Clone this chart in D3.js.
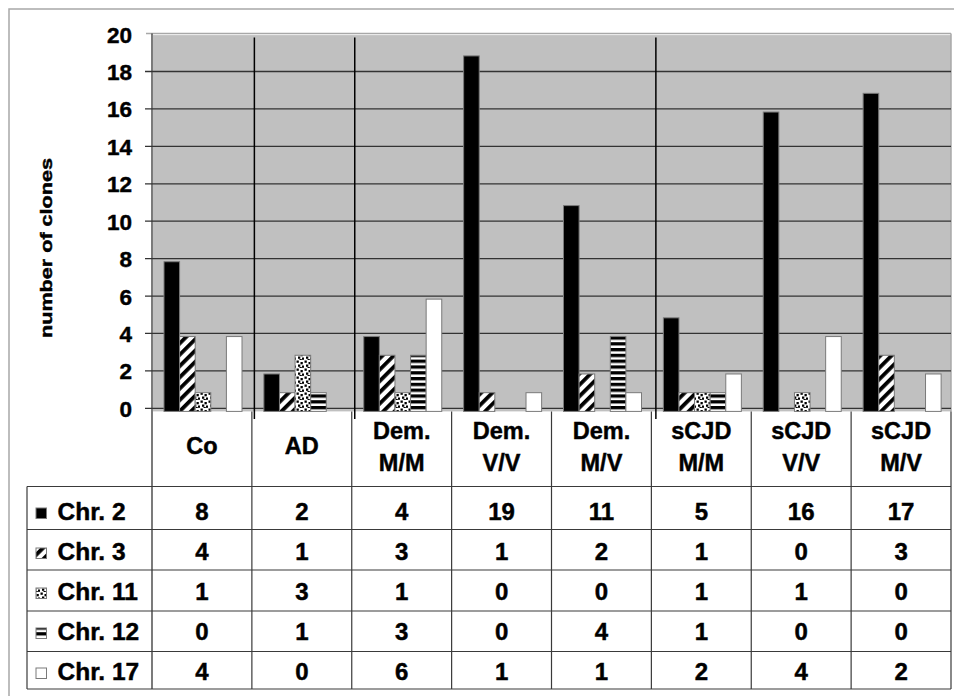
<!DOCTYPE html>
<html>
<head>
<meta charset="utf-8">
<script src="https://cdn.jsdelivr.net/npm/d3@7"></script>
<style>
  html, body { margin: 0; padding: 0; background: #fff; }
  svg { display: block; font-family: "Liberation Sans", Arial, sans-serif; font-weight: bold; }
  svg text { stroke: #000; stroke-width: 0.45px; paint-order: stroke; }
</style>
</head>
<body>
<svg id="chart" width="954" height="696"></svg>
<script>
// Clone counts per chromosome for each patient group
const categories = ["Co", "AD", "Dem. M/M", "Dem. V/V", "Dem. M/V", "sCJD M/M", "sCJD V/V", "sCJD M/V"];
const seriesNames = ["Chr. 2", "Chr. 3", "Chr. 11", "Chr. 12", "Chr. 17"];
const chr2  = [8, 2, 4, 19, 11, 5, 16, 17];
const chr3  = [4, 1, 3, 1, 2, 1, 0, 3];
const chr11 = [1, 3, 1, 0, 0, 1, 1, 0];
const chr12 = [0, 1, 3, 0, 4, 1, 0, 0];
const chr17 = [4, 0, 6, 1, 1, 2, 4, 2];
const yTicks = [0, 2, 4, 6, 8, 10, 12, 14, 16, 18, 20];
const groupEnds = ["Co", "AD", "Dem. M/V"]; // categories followed by a group separator

const seriesValues = [chr2, chr3, chr11, chr12, chr17];
const fills = ["#000", "url(#pDiag)", "url(#pDots)", "url(#pHoriz)", "#fff"];

const svg = d3.select("#chart");

// ---- patterns ----
const defs = svg.append("defs");
const diag = defs.append("pattern").attr("id", "pDiag").attr("patternUnits", "userSpaceOnUse")
  .attr("width", 8).attr("height", 8).attr("patternTransform", "rotate(45)");
diag.append("rect").attr("width", 8).attr("height", 8).attr("fill", "#fff");
diag.append("rect").attr("width", 3.8).attr("height", 8).attr("fill", "#000");

const dots = defs.append("pattern").attr("id", "pDots").attr("patternUnits", "userSpaceOnUse")
  .attr("width", 8).attr("height", 8);
dots.append("rect").attr("width", 8).attr("height", 8).attr("fill", "#fff");
[[0.5, 0.5], [4.5, 2], [2, 4.5], [6, 5.5], [3.5, 7]].forEach(([px, py]) => {
  dots.append("rect").attr("x", px).attr("y", py).attr("width", 2.3).attr("height", 2.3).attr("fill", "#000");
});

const horiz = defs.append("pattern").attr("id", "pHoriz").attr("patternUnits", "userSpaceOnUse")
  .attr("width", 8).attr("height", 5.8);
horiz.append("rect").attr("width", 8).attr("height", 5.8).attr("fill", "#fff");
horiz.append("rect").attr("width", 8).attr("height", 3.3).attr("fill", "#000");

// ---- outer frame ----
svg.append("rect").attr("x", 9).attr("y", 9).attr("width", 1000).attr("height", 1000)
  .attr("fill", "none").attr("stroke", "#a8a8a8").attr("stroke-width", 1.5);

// ---- scales ----
const plotLeft = 152, plotRight = 951, yTop = 33.6, yZero = 407.8;
const x0 = d3.scaleBand().domain(categories).range([plotLeft, plotRight]);
const x1 = d3.scaleBand().domain(seriesNames).range([12, 12 + 78]);
const y = d3.scaleLinear().domain([0, 20]).range([yZero, yTop]);
const sepX = d3.scaleLinear().domain([0, 8]).range([154, 957]);
const barShift = 3.6;

// ---- plot area ----
svg.append("rect").attr("x", plotLeft + 1).attr("y", yTop + 1.5)
  .attr("width", plotRight - plotLeft - 1).attr("height", yZero + barShift - yTop - 1.5)
  .attr("fill", "#c0c0c0");
svg.append("line").attr("x1", 146).attr("x2", plotRight).attr("y1", yTop).attr("y2", yTop)
  .attr("stroke", "#a8a8a8").attr("stroke-width", 1.5);
svg.append("line").attr("x1", plotRight).attr("x2", plotRight).attr("y1", yTop).attr("y2", yZero + barShift)
  .attr("stroke", "#a8a8a8").attr("stroke-width", 1.5);

// gridlines + y axis
const yAxis = d3.axisLeft(y).tickValues(yTicks.filter(t => t !== 20)).tickSize(plotRight - 145).tickFormat("");
const gGrid = svg.append("g").attr("transform", `translate(${plotRight},0)`).call(yAxis);
gGrid.select(".domain").remove();
gGrid.selectAll("line").attr("stroke", "#333").attr("stroke-width", 1.3);

const gLabels = svg.append("g").attr("transform", "translate(132,0)")
  .call(d3.axisLeft(y).tickValues(yTicks).tickSize(0).tickPadding(0));
gLabels.select(".domain").remove();
gLabels.selectAll("text").attr("font-size", 22.5).attr("font-weight", "bold")
  .attr("font-family", "'Liberation Sans', Arial, sans-serif").attr("fill", "#000")
  .attr("dy", null).attr("dominant-baseline", "auto")
  .attr("transform", "translate(0,8.5)");

// y axis line (continues down as table border)
svg.append("line").attr("x1", plotLeft).attr("x2", plotLeft).attr("y1", yTop).attr("y2", 689)
  .attr("stroke", "#333").attr("stroke-width", 1.3);

// group separators
groupEnds.forEach(c => {
  const k = categories.indexOf(c) + 1;
  svg.append("line").attr("x1", sepX(k)).attr("x2", sepX(k)).attr("y1", 37.5).attr("y2", 419)
    .attr("stroke", "#000").attr("stroke-width", 1.5);
});

// ---- bars ----
const barData = [];
categories.forEach((c, ci) => {
  seriesNames.forEach((s, si) => {
    barData.push({ cat: c, series: s, value: seriesValues[si][ci], fill: fills[si] });
  });
});
svg.append("g").selectAll("rect").data(barData.filter(d => d.value > 0)).join("rect")
  .attr("x", d => x0(d.cat) + x1(d.series))
  .attr("y", d => y(d.value) + barShift)
  .attr("width", x1.bandwidth())
  .attr("height", d => y(0) - y(d.value))
  .attr("fill", d => d.fill)
  .attr("stroke", "#7a7a7a").attr("stroke-width", 1);

// ---- y axis title ----
svg.append("text").attr("transform", "translate(52,248) rotate(-90)")
  .attr("text-anchor", "middle").attr("font-size", 16.5)
  .attr("textLength", 180).attr("lengthAdjust", "spacingAndGlyphs")
  .text("number of clones");

// ---- data table ----
const rowLines = [486.5, 529.5, 570, 611, 651.5, 689];
const tableStroke = "#3a3a3a";
const tg = svg.append("g");

// header column lines
categories.forEach(c => {
  tg.append("line").attr("x1", x0(c) + x0.bandwidth()).attr("x2", x0(c) + x0.bandwidth())
    .attr("y1", yZero + barShift).attr("y2", 689).attr("stroke", tableStroke).attr("stroke-width", 1.2);
});
// horizontal row lines
rowLines.forEach(ry => {
  tg.append("line").attr("x1", 27).attr("x2", plotRight).attr("y1", ry).attr("y2", ry)
    .attr("stroke", tableStroke).attr("stroke-width", 1.2);
});
tg.append("line").attr("x1", 27).attr("x2", 27).attr("y1", rowLines[0]).attr("y2", 689)
  .attr("stroke", tableStroke).attr("stroke-width", 1.2);

// category headers
categories.forEach(c => {
  const parts = c.split(" ");
  const cx = x0(c) + x0.bandwidth() / 2;
  const baselines = parts.length === 1 ? [454] : [439, 471];
  parts.forEach((p, i) => {
    tg.append("text").attr("x", cx).attr("y", baselines[i]).attr("text-anchor", "middle")
      .attr("font-size", 23.5).text(p);
  });
});

// rows: legend key, name and values
const rowBaselines = [520, 560, 600, 640, 680];
seriesNames.forEach((s, si) => {
  const by = rowBaselines[si];
  tg.append("rect").attr("x", 36).attr("y", by - 12).attr("width", 10.5).attr("height", 10.5)
    .attr("fill", fills[si]).attr("stroke", "#7a7a7a").attr("stroke-width", 1);
  tg.append("text").attr("x", 57.5).attr("y", by).attr("font-size", 24.5).text(s);
  categories.forEach((c, ci) => {
    tg.append("text").attr("x", x0(c) + x0.bandwidth() / 2).attr("y", by)
      .attr("text-anchor", "middle").attr("font-size", 24).text(seriesValues[si][ci]);
  });
});
</script>
</body>
</html>
